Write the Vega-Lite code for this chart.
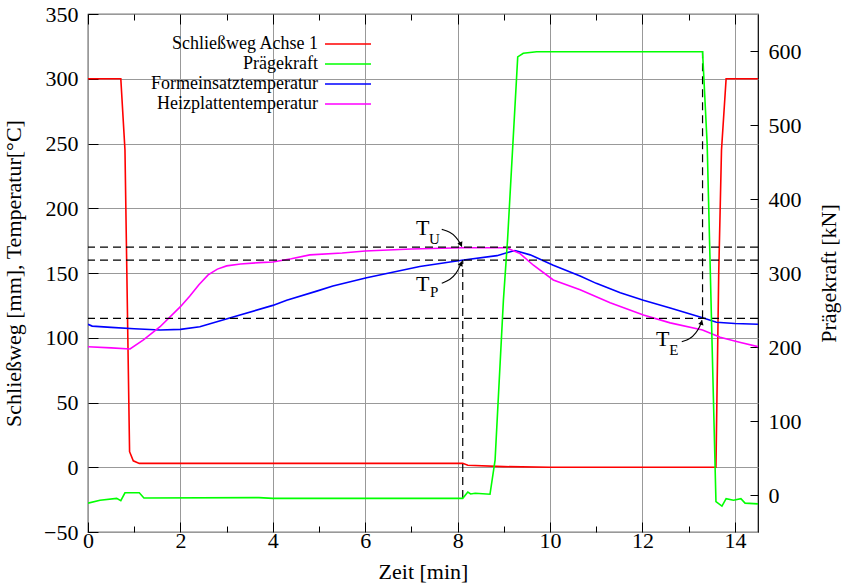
{
  "$schema": "https://vega.github.io/schema/vega-lite/v6.json",
  "width": 670,
  "height": 518,
  "autosize": {"type": "none"},
  "padding": {"left": 88, "top": 14, "right": 88, "bottom": 56},
  "background": "white",
  "config": {
    "font": "Liberation Serif",
    "view": {"stroke": "#000", "strokeWidth": 1.2},
    "axis": {
      "labelFont": "Liberation Serif",
      "titleFont": "Liberation Serif",
      "labelFontSize": 22,
      "titleFontSize": 22,
      "labelColor": "#000",
      "titleColor": "#000",
      "titleFontWeight": "normal",
      "labelFlush": false,
      "domain": false,
      "tickColor": "#000",
      "tickWidth": 1,
      "gridColor": "#999999",
      "gridWidth": 1
    },
    "legend": {
      "labelFont": "Liberation Serif",
      "labelFontSize": 18,
      "labelColor": "#000"
    }
  },
  "datasets": {
    "lines": [
      {"s": "Schließweg Achse 1", "t": 0, "v": 300},
      {"s": "Schließweg Achse 1", "t": 0.71, "v": 300},
      {"s": "Schließweg Achse 1", "t": 0.8, "v": 245},
      {"s": "Schließweg Achse 1", "t": 0.9, "v": 12},
      {"s": "Schließweg Achse 1", "t": 0.98, "v": 5},
      {"s": "Schließweg Achse 1", "t": 1.11, "v": 3},
      {"s": "Schließweg Achse 1", "t": 4, "v": 3},
      {"s": "Schließweg Achse 1", "t": 8.11, "v": 3},
      {"s": "Schließweg Achse 1", "t": 8.22, "v": 1.5},
      {"s": "Schließweg Achse 1", "t": 9, "v": 0.5},
      {"s": "Schließweg Achse 1", "t": 10, "v": 0},
      {"s": "Schließweg Achse 1", "t": 13.59, "v": 0},
      {"s": "Schließweg Achse 1", "t": 13.65, "v": 150},
      {"s": "Schließweg Achse 1", "t": 13.71, "v": 245},
      {"s": "Schließweg Achse 1", "t": 13.81, "v": 300},
      {"s": "Schließweg Achse 1", "t": 14.5, "v": 300},
      {"s": "Formeinsatztemperatur", "t": 0, "v": 110.4},
      {"s": "Formeinsatztemperatur", "t": 0.09, "v": 109},
      {"s": "Formeinsatztemperatur", "t": 0.5, "v": 108},
      {"s": "Formeinsatztemperatur", "t": 1, "v": 107},
      {"s": "Formeinsatztemperatur", "t": 1.56, "v": 106},
      {"s": "Formeinsatztemperatur", "t": 2, "v": 106.5},
      {"s": "Formeinsatztemperatur", "t": 2.42, "v": 108.5},
      {"s": "Formeinsatztemperatur", "t": 3.14, "v": 116},
      {"s": "Formeinsatztemperatur", "t": 4, "v": 125},
      {"s": "Formeinsatztemperatur", "t": 4.3, "v": 129},
      {"s": "Formeinsatztemperatur", "t": 4.95, "v": 136},
      {"s": "Formeinsatztemperatur", "t": 5.3, "v": 140},
      {"s": "Formeinsatztemperatur", "t": 6.03, "v": 146.4},
      {"s": "Formeinsatztemperatur", "t": 7.18, "v": 155},
      {"s": "Formeinsatztemperatur", "t": 8.09, "v": 159.8},
      {"s": "Formeinsatztemperatur", "t": 8.85, "v": 163.4},
      {"s": "Formeinsatztemperatur", "t": 9.1, "v": 166},
      {"s": "Formeinsatztemperatur", "t": 9.24, "v": 167.3},
      {"s": "Formeinsatztemperatur", "t": 9.57, "v": 164},
      {"s": "Formeinsatztemperatur", "t": 10.07, "v": 156},
      {"s": "Formeinsatztemperatur", "t": 10.65, "v": 147.7},
      {"s": "Formeinsatztemperatur", "t": 11, "v": 142},
      {"s": "Formeinsatztemperatur", "t": 11.52, "v": 134.8},
      {"s": "Formeinsatztemperatur", "t": 12.02, "v": 129},
      {"s": "Formeinsatztemperatur", "t": 12.6, "v": 123},
      {"s": "Formeinsatztemperatur", "t": 13.3, "v": 115.5},
      {"s": "Formeinsatztemperatur", "t": 13.6, "v": 112},
      {"s": "Formeinsatztemperatur", "t": 14, "v": 111},
      {"s": "Formeinsatztemperatur", "t": 14.5, "v": 110.4},
      {"s": "Heizplattentemperatur", "t": 0, "v": 93.1},
      {"s": "Heizplattentemperatur", "t": 0.5, "v": 92.2},
      {"s": "Heizplattentemperatur", "t": 0.91, "v": 91.3},
      {"s": "Heizplattentemperatur", "t": 1.2, "v": 98.3},
      {"s": "Heizplattentemperatur", "t": 1.56, "v": 108.5},
      {"s": "Heizplattentemperatur", "t": 2, "v": 124},
      {"s": "Heizplattentemperatur", "t": 2.2, "v": 132},
      {"s": "Heizplattentemperatur", "t": 2.4, "v": 141},
      {"s": "Heizplattentemperatur", "t": 2.6, "v": 148.5},
      {"s": "Heizplattentemperatur", "t": 2.8, "v": 153},
      {"s": "Heizplattentemperatur", "t": 3.0, "v": 155.5},
      {"s": "Heizplattentemperatur", "t": 3.3, "v": 157},
      {"s": "Heizplattentemperatur", "t": 3.7, "v": 158},
      {"s": "Heizplattentemperatur", "t": 4, "v": 158.5},
      {"s": "Heizplattentemperatur", "t": 4.4, "v": 161},
      {"s": "Heizplattentemperatur", "t": 4.8, "v": 164},
      {"s": "Heizplattentemperatur", "t": 5.5, "v": 165.5},
      {"s": "Heizplattentemperatur", "t": 6, "v": 167},
      {"s": "Heizplattentemperatur", "t": 7, "v": 168.5},
      {"s": "Heizplattentemperatur", "t": 8.1, "v": 169.5},
      {"s": "Heizplattentemperatur", "t": 9.06, "v": 169.5},
      {"s": "Heizplattentemperatur", "t": 9.35, "v": 165},
      {"s": "Heizplattentemperatur", "t": 9.64, "v": 156},
      {"s": "Heizplattentemperatur", "t": 10.07, "v": 144.6},
      {"s": "Heizplattentemperatur", "t": 10.65, "v": 137},
      {"s": "Heizplattentemperatur", "t": 11.3, "v": 127},
      {"s": "Heizplattentemperatur", "t": 12.02, "v": 117.6},
      {"s": "Heizplattentemperatur", "t": 12.6, "v": 111.5},
      {"s": "Heizplattentemperatur", "t": 13.3, "v": 106},
      {"s": "Heizplattentemperatur", "t": 13.68, "v": 100.3},
      {"s": "Heizplattentemperatur", "t": 14.1, "v": 96.5},
      {"s": "Heizplattentemperatur", "t": 14.5, "v": 93.1}
    ],
    "force": [
      {"s": "Prägekraft", "t": 0, "kn": -11},
      {"s": "Prägekraft", "t": 0.26, "kn": -7},
      {"s": "Prägekraft", "t": 0.62, "kn": -4.5},
      {"s": "Prägekraft", "t": 0.71, "kn": -7.7},
      {"s": "Prägekraft", "t": 0.8, "kn": 3},
      {"s": "Prägekraft", "t": 1.11, "kn": 3},
      {"s": "Prägekraft", "t": 1.21, "kn": -4},
      {"s": "Prägekraft", "t": 3.7, "kn": -3.5},
      {"s": "Prägekraft", "t": 4, "kn": -4.5},
      {"s": "Prägekraft", "t": 6, "kn": -4.5},
      {"s": "Prägekraft", "t": 8.11, "kn": -4.5},
      {"s": "Prägekraft", "t": 8.22, "kn": 4},
      {"s": "Prägekraft", "t": 8.28, "kn": 1.4},
      {"s": "Prägekraft", "t": 8.38, "kn": 2.3},
      {"s": "Prägekraft", "t": 8.7, "kn": 1},
      {"s": "Prägekraft", "t": 8.81, "kn": 47},
      {"s": "Prägekraft", "t": 8.99, "kn": 263},
      {"s": "Prägekraft", "t": 9.08, "kn": 345},
      {"s": "Prägekraft", "t": 9.3, "kn": 592},
      {"s": "Prägekraft", "t": 9.42, "kn": 597},
      {"s": "Prägekraft", "t": 9.71, "kn": 599},
      {"s": "Prägekraft", "t": 13.3, "kn": 599},
      {"s": "Prägekraft", "t": 13.4, "kn": 474},
      {"s": "Prägekraft", "t": 13.59, "kn": -9},
      {"s": "Prägekraft", "t": 13.72, "kn": -15},
      {"s": "Prägekraft", "t": 13.81, "kn": -5},
      {"s": "Prägekraft", "t": 13.97, "kn": -7},
      {"s": "Prägekraft", "t": 14.13, "kn": -5},
      {"s": "Prägekraft", "t": 14.22, "kn": -11},
      {"s": "Prägekraft", "t": 14.5, "kn": -12}
    ],
    "hlines": [{"v": 170}, {"v": 160}, {"v": 115}],
    "vlines": [
      {"t": 8.11, "v": -23.7, "v2": 160},
      {"t": 13.3, "v": 115, "v2": 321.4}
    ],
    "arrows": [
      {"a": "U", "i": 0, "t": 7.656, "v": 183.7},
      {"a": "U", "i": 1, "t": 7.835, "v": 181.7},
      {"a": "U", "i": 2, "t": 7.965, "v": 177.9},
      {"a": "U", "i": 3, "t": 8.052, "v": 173.3},
      {"a": "U", "i": 4, "t": 8.09, "v": 170.5},
      {"a": "P", "i": 0, "t": 7.656, "v": 142.0},
      {"a": "P", "i": 1, "t": 7.835, "v": 144.6},
      {"a": "P", "i": 2, "t": 7.965, "v": 149.2},
      {"a": "P", "i": 3, "t": 8.052, "v": 155.4},
      {"a": "P", "i": 4, "t": 8.09, "v": 158.8},
      {"a": "E", "i": 0, "t": 12.85, "v": 96.9},
      {"a": "E", "i": 1, "t": 13.03, "v": 99.0},
      {"a": "E", "i": 2, "t": 13.16, "v": 103.7},
      {"a": "E", "i": 3, "t": 13.25, "v": 109.1},
      {"a": "E", "i": 4, "t": 13.285, "v": 113.5}
    ],
    "heads": [
      {"a": "U", "t": 8.07, "v": 172},
      {"a": "P", "t": 8.075, "v": 157.3},
      {"a": "E", "t": 13.278, "v": 111.8}
    ],
    "labelsT": [
      {"t": 7.1, "v": 179.3, "txt": "T"},
      {"t": 7.1, "v": 136.3, "txt": "T"},
      {"t": 12.29, "v": 93.9, "txt": "T"}
    ],
    "labelsSub": [
      {"t": 7.38, "v": 172.6, "txt": "U"},
      {"t": 7.4, "v": 131.2, "txt": "P"},
      {"t": 12.58, "v": 86.7, "txt": "E"}
    ]
  },
  "layer": [
    {
      "layer": [
        {
          "data": {"name": "lines"},
          "mark": {"type": "line", "strokeWidth": 1.6, "clip": true},
          "encoding": {
            "x": {
              "field": "t", "type": "quantitative",
              "scale": {"domain": [0, 14.5], "nice": false, "zero": false},
              "axis": {
                "orient": "bottom",
                "title": "Zeit [min]",
                "values": [0, 1, 2, 3, 4, 5, 6, 7, 8, 9, 10, 11, 12, 13, 14],
                "labelExpr": "datum.value % 2 == 0 ? datum.label : ''",
                "tickSize": {"condition": {"test": "datum.value % 2 == 0", "value": -10}, "value": -6},
                "gridOpacity": {"condition": {"test": "datum.value % 2 == 0", "value": 1}, "value": 0},
                "grid": true,
                "labelPadding": 8,
                "titlePadding": 10
              }
            },
            "y": {
              "field": "v", "type": "quantitative",
              "scale": {"domain": [-50, 350], "nice": false, "zero": false},
              "axis": {
                "title": "Schließweg [mm], Temperatur[°C]",
                "values": [-50, 0, 50, 100, 150, 200, 250, 300, 350],
                "tickSize": -10,
                "grid": true,
                "labelPadding": 20,
                "titlePadding": 18
              }
            },
            "color": {
              "field": "s", "type": "nominal",
              "scale": {
                "domain": ["Schließweg Achse 1", "Prägekraft", "Formeinsatztemperatur", "Heizplattentemperatur"],
                "range": ["#ff0000", "#00ff00", "#0000ff", "#ff00ff"]
              },
              "legend": {
                "orient": "none",
                "legendX": 249,
                "legendY": 19,
                "title": null,
                "symbolType": "M-2.3,0H2.3",
                "symbolSize": 400,
                "symbolStrokeWidth": 1.6,
                "labelAlign": "right",
                "labelOffset": -41,
                "labelLimit": 400,
                "rowPadding": 0,
                "padding": 0
              }
            }
          }
        },
        {
          "data": {"name": "hlines"},
          "mark": {"type": "rule", "color": "#000", "strokeWidth": 1.2, "strokeDash": [8, 5]},
          "encoding": {
            "y": {"field": "v", "type": "quantitative"}
          }
        },
        {
          "data": {"name": "vlines"},
          "mark": {"type": "rule", "color": "#000", "strokeWidth": 1.2, "strokeDash": [8, 5]},
          "encoding": {
            "x": {"field": "t", "type": "quantitative"},
            "y": {"field": "v", "type": "quantitative"},
            "y2": {"field": "v2"}
          }
        },
        {
          "data": {"name": "arrows"},
          "mark": {"type": "line", "color": "#000", "strokeWidth": 1.1, "interpolate": "basis"},
          "encoding": {
            "x": {"field": "t", "type": "quantitative"},
            "y": {"field": "v", "type": "quantitative"},
            "detail": {"field": "a"},
            "order": {"field": "i"}
          }
        },
        {
          "data": {"name": "heads"},
          "transform": [{"filter": "datum.a == 'U'"}],
          "mark": {"type": "point", "shape": "triangle-up", "filled": true, "color": "#000", "size": 30, "angle": 155, "opacity": 1},
          "encoding": {
            "x": {"field": "t", "type": "quantitative"},
            "y": {"field": "v", "type": "quantitative"}
          }
        },
        {
          "data": {"name": "heads"},
          "transform": [{"filter": "datum.a == 'P'"}],
          "mark": {"type": "point", "shape": "triangle-up", "filled": true, "color": "#000", "size": 30, "angle": 22, "opacity": 1},
          "encoding": {
            "x": {"field": "t", "type": "quantitative"},
            "y": {"field": "v", "type": "quantitative"}
          }
        },
        {
          "data": {"name": "heads"},
          "transform": [{"filter": "datum.a == 'E'"}],
          "mark": {"type": "point", "shape": "triangle-up", "filled": true, "color": "#000", "size": 30, "angle": 17, "opacity": 1},
          "encoding": {
            "x": {"field": "t", "type": "quantitative"},
            "y": {"field": "v", "type": "quantitative"}
          }
        },
        {
          "data": {"name": "labelsT"},
          "mark": {"type": "text", "align": "left", "baseline": "alphabetic", "fontSize": 22, "font": "Liberation Serif", "color": "#000"},
          "encoding": {
            "x": {"field": "t", "type": "quantitative"},
            "y": {"field": "v", "type": "quantitative"},
            "text": {"field": "txt"}
          }
        },
        {
          "data": {"name": "labelsSub"},
          "mark": {"type": "text", "align": "left", "baseline": "alphabetic", "fontSize": 15, "font": "Liberation Serif", "color": "#000"},
          "encoding": {
            "x": {"field": "t", "type": "quantitative"},
            "y": {"field": "v", "type": "quantitative"},
            "text": {"field": "txt"}
          }
        }
      ]
    },
    {
      "data": {"name": "force"},
      "mark": {"type": "line", "strokeWidth": 1.6, "clip": true},
      "encoding": {
        "x": {
          "field": "t", "type": "quantitative",
          "axis": {
            "orient": "top",
            "title": null,
            "labels": false,
            "grid": false,
            "values": [0, 1, 2, 3, 4, 5, 6, 7, 8, 9, 10, 11, 12, 13, 14],
            "tickSize": {"condition": {"test": "datum.value % 2 == 0", "value": -10}, "value": -6}
          }
        },
        "y": {
          "field": "kn", "type": "quantitative",
          "scale": {"domain": [-50, 650], "nice": false, "zero": false},
          "axis": {
            "orient": "right",
            "title": "Prägekraft [kN]",
            "titleAngle": -90,
            "values": [0, 100, 200, 300, 400, 500, 600],
            "tickSize": -8,
            "grid": false,
            "labelPadding": 18,
            "titlePadding": 39
          }
        },
        "color": {"field": "s", "type": "nominal"}
      }
    }
  ],
  "resolve": {"scale": {"y": "independent"}, "axis": {"x": "independent"}}
}
